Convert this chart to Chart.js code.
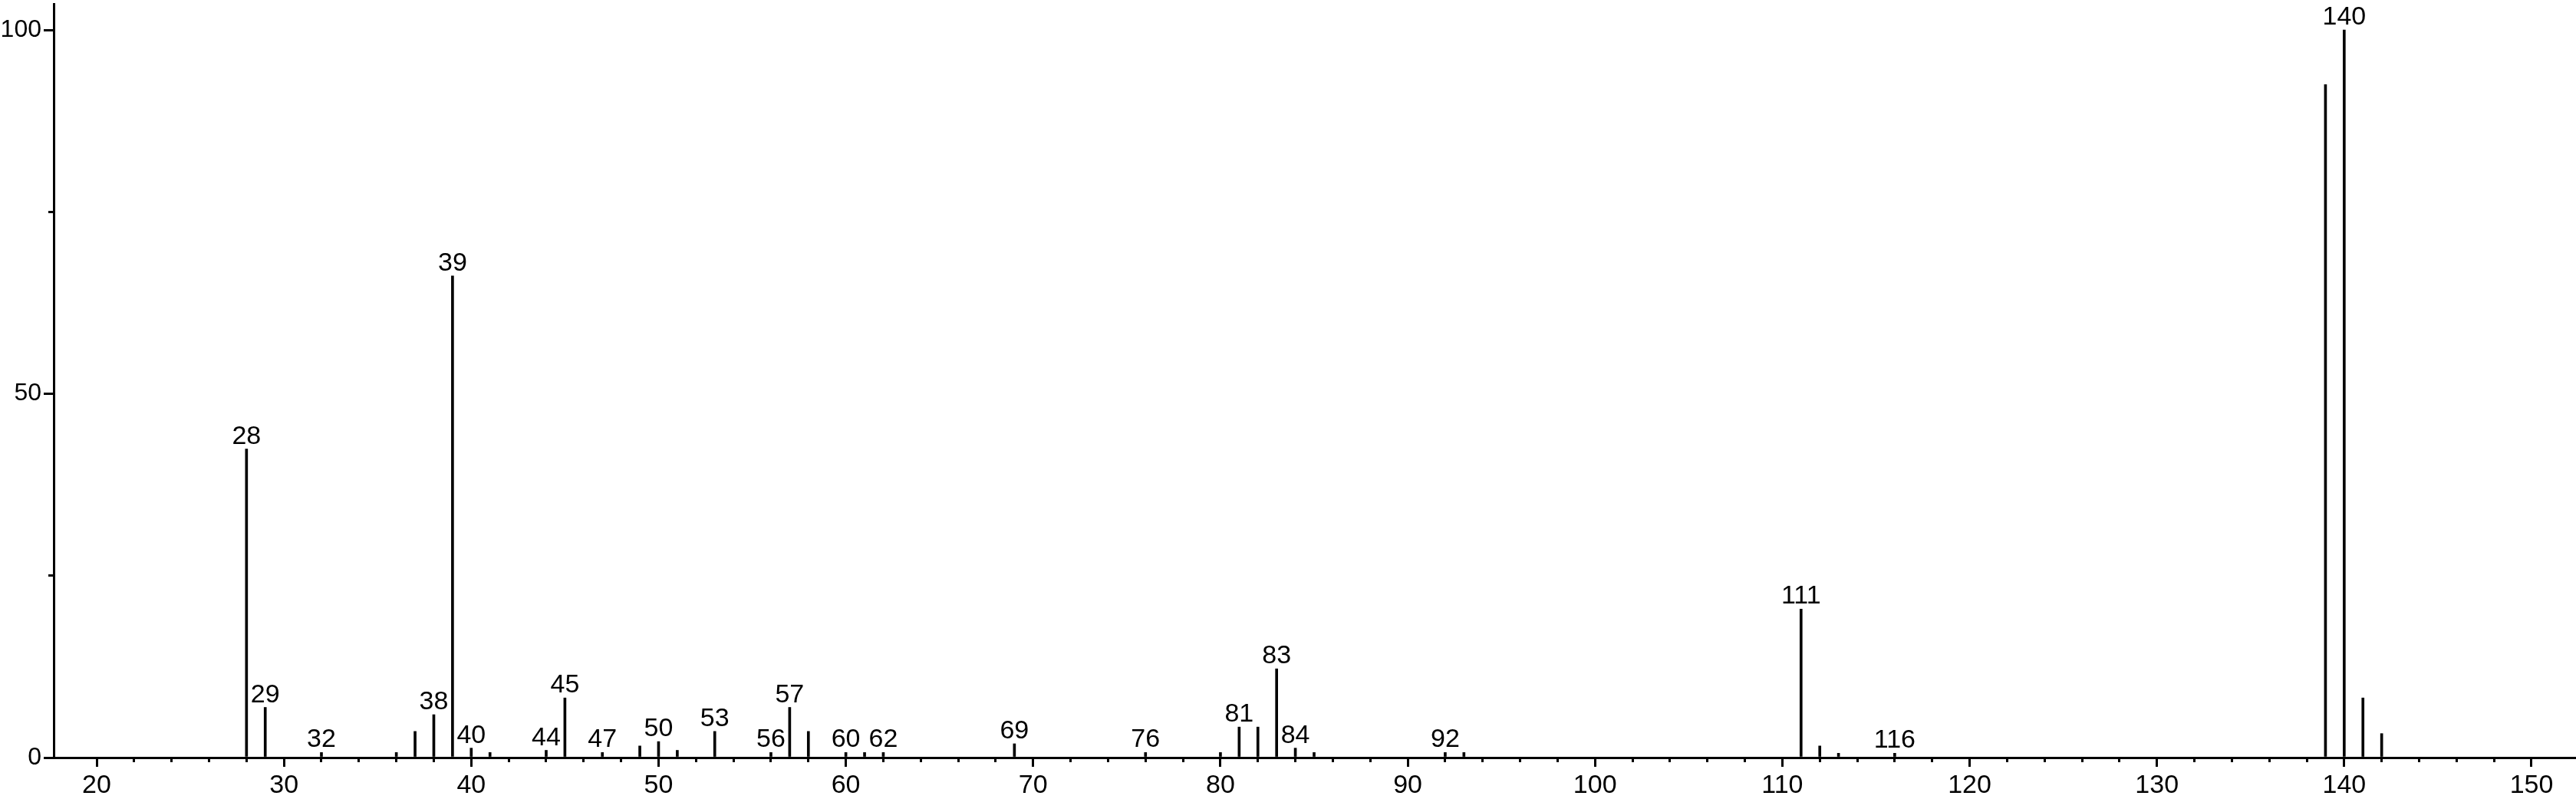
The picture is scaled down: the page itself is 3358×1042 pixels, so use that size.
<!DOCTYPE html>
<html>
<head>
<meta charset="utf-8">
<script src="https://cdn.jsdelivr.net/npm/chart.js@4/dist/chart.umd.min.js"></script>
<style>
html,body{margin:0;padding:0;background:#fff;}
canvas{display:block;}
</style>
</head>
<body>
<canvas id="c" width="3358" height="1042"></canvas>
<script>
// m/z values of the peaks
const mzValues = [28,29,32,36,37,38,39,40,41,44,45,47,49,50,51,53,56,57,58,60,61,62,69,76,80,81,82,83,84,85,92,93,111,112,113,116,139,140,141,142];
// relative intensities (%)
const intensities = [42.4,6.9,0.7,0.7,3.6,5.9,66.2,1.3,0.7,1.0,8.2,0.7,1.6,2.2,1.0,3.6,0.7,6.9,3.6,0.7,0.7,0.7,1.9,0.7,0.7,4.2,4.2,12.2,1.3,0.7,0.7,0.7,20.4,1.6,0.6,0.6,92.5,100,8.2,3.3];
// peaks that carry a text label
const labeledPeaks = [28,29,32,38,39,40,44,45,47,50,53,56,57,60,62,69,76,81,83,84,92,111,116,140];
// axis ticks
const xMajorTicks = [20,30,40,50,60,70,80,90,100,110,120,130,140,150];
const xMinorTicks = [20,22,24,26,28,30,32,34,36,38,40,42,44,46,48,50,52,54,56,58,60,62,64,66,68,70,72,74,76,78,80,82,84,86,88,90,92,94,96,98,100,102,104,106,108,110,112,114,116,118,120,122,124,126,128,130,132,134,136,138,140,142,144,146,148,150];
const yMajorTicks = [0,50,100];
const yMinorTicks = [25,75];
const xMin = 17.706, xMax = 152.376, yMin = 0, yMax = 103.6;

const FONT = '"Liberation Sans", Arial, sans-serif';

const peakLabelPlugin = {
  id: 'peakLabels',
  afterDatasetsDraw(chart) {
    const ctx = chart.ctx;
    const meta = chart.getDatasetMeta(0);
    ctx.save();
    ctx.font = '34px ' + FONT;
    ctx.fillStyle = '#000';
    ctx.textAlign = 'center';
    ctx.textBaseline = 'alphabetic';
    meta.data.forEach((bar, i) => {
      if (labeledPeaks.includes(mzValues[i])) {
        ctx.fillText(String(mzValues[i]), bar.x, bar.y - 7);
      }
    });
    ctx.restore();
  }
};

const noPad = s => { s.paddingTop = 0; s.paddingBottom = 0; s.paddingLeft = 0; s.paddingRight = 0; };

const points = mzValues.map((m, i) => ({x: m, y: intensities[i]}));

new Chart(document.getElementById('c'), {
  type: 'bar',
  data: {
    datasets: [{
      data: points,
      backgroundColor: '#000',
      borderWidth: 0,
      barThickness: 3,
      xAxisID: 'x',
      yAxisID: 'y'
    }]
  },
  options: {
    responsive: false,
    animation: false,
    devicePixelRatio: 1,
    events: [],
    layout: {padding: {top: 5, left: 0, right: 0, bottom: 0}},
    plugins: {legend: {display: false}, tooltip: {enabled: false}},
    scales: {
      x: {
        type: 'linear',
        position: 'bottom',
        offset: false,
        min: xMin, max: xMax,
        afterBuildTicks: s => { s.ticks = xMajorTicks.map(v => ({value: v})); },
        afterFit: s => { s.height = 54; noPad(s); },
        grid: {display: true, offset: false, drawOnChartArea: false, drawTicks: true, tickLength: 12, tickWidth: 3, tickColor: '#000', lineWidth: 3, color: '#000'},
        border: {display: true, color: '#000', width: 3},
        ticks: {color: '#000', font: {family: FONT, size: 34}, padding: 4, maxRotation: 0, autoSkip: false, callback: v => String(v)}
      },
      x2: {
        type: 'linear',
        axis: 'x',
        position: {y: 0},
        offset: false,
        min: xMin, max: xMax,
        afterBuildTicks: s => { s.ticks = xMinorTicks.map(v => ({value: v})); },
        afterFit: noPad,
        grid: {display: true, offset: false, drawOnChartArea: false, drawTicks: true, tickLength: 6, tickWidth: 3, tickColor: '#000', lineWidth: 3, color: '#000'},
        border: {display: false},
        ticks: {display: false}
      },
      y: {
        type: 'linear',
        position: 'left',
        min: yMin, max: yMax,
        afterBuildTicks: s => { s.ticks = yMajorTicks.map(v => ({value: v})); },
        afterFit: s => { s.width = 70; noPad(s); },
        grid: {display: true, drawOnChartArea: false, drawTicks: true, tickLength: 13, tickWidth: 3, tickColor: '#000', lineWidth: 3, color: '#000'},
        border: {display: true, color: '#000', width: 3},
        ticks: {color: '#000', font: {family: FONT, size: 32}, padding: 3, callback: v => String(v)}
      },
      y2: {
        type: 'linear',
        axis: 'y',
        position: {x: xMin},
        min: yMin, max: yMax,
        afterBuildTicks: s => { s.ticks = yMinorTicks.map(v => ({value: v})); },
        afterFit: noPad,
        grid: {display: true, drawOnChartArea: false, drawTicks: true, tickLength: 7, tickWidth: 3, tickColor: '#000', lineWidth: 3, color: '#000'},
        border: {display: false},
        ticks: {display: false}
      }
    }
  },
  plugins: [peakLabelPlugin]
});
</script>
</body>
</html>
